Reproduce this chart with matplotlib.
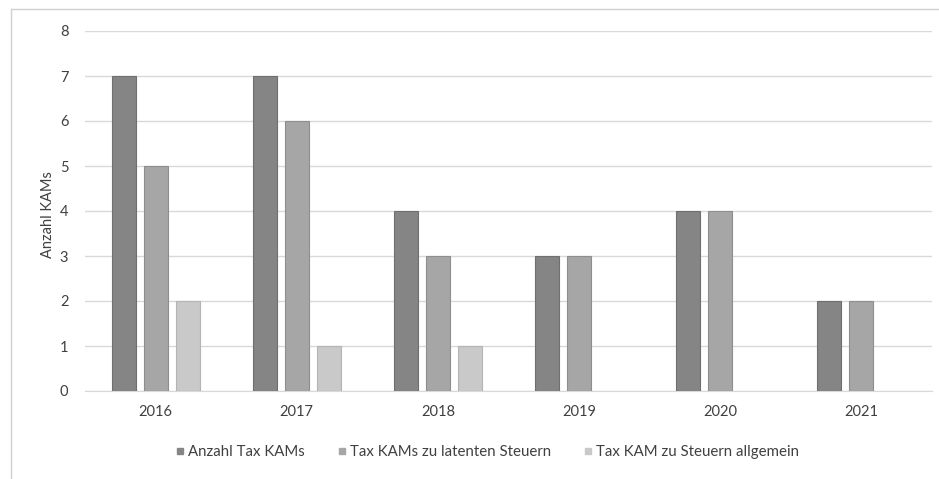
import matplotlib.pyplot as plt
import numpy as np
from matplotlib.lines import Line2D

plt.rcParams["font.family"] = ["Lato", "DejaVu Sans"]

years = ["2016", "2017", "2018", "2019", "2020", "2021"]
series_names = ["Anzahl Tax KAMs", "Tax KAMs zu latenten Steuern", "Tax KAM zu Steuern allgemein"]
anzahl = [7, 7, 4, 3, 4, 2]
latent = [5, 6, 3, 3, 4, 2]
allgemein = [2, 1, 1, 0, 0, 0]
colors = ["#858585", "#a6a6a6", "#c9c9c9"]
edges = ["#6f6f6f", "#8e8e8e", "#b4b4b4"]

W, H = 939, 479
fig = plt.figure(figsize=(W / 100, H / 100), dpi=100)
ax = fig.add_axes([85 / W, 1 - 391 / H, (932 - 85) / W, (391 - 31) / H])

x = np.arange(len(years))
width = 0.17
step = 0.227
for i, vals in enumerate([anzahl, latent, allgemein]):
    vals = np.array(vals, dtype=float)
    mask = vals > 0
    ax.bar(x[mask] + (i - 1) * step, vals[mask], width=width, color=colors[i],
           edgecolor=edges[i], linewidth=0.8, zorder=3)

ax.set_xlim(-0.5, len(years) - 0.5)
ax.set_ylim(0, 8)
ax.set_yticks(range(0, 9))
ax.set_xticks(x)
ax.set_xticklabels(years)
ax.grid(axis="y", color="#d9d9d9", linewidth=1, zorder=0)
for s in ["top", "right", "left"]:
    ax.spines[s].set_visible(False)
ax.spines["bottom"].set_color("#d9d9d9")
ax.tick_params(axis="both", length=0, labelsize=10.5, colors="#404040")
ax.tick_params(axis="y", pad=12)
ax.tick_params(axis="x", pad=10)
ax.set_ylabel("Anzahl KAMs", fontsize=10.5, color="#404040")
ax.yaxis.set_label_coords(-30 / (932 - 85), 0.49)

handles = [Line2D([], [], marker="s", linestyle="none", markersize=4.5,
                  markerfacecolor=c, markeredgecolor=c) for c in colors]
fig.legend(handles, series_names, loc="center", bbox_to_anchor=(486 / W, 1 - 452 / H),
           ncol=3, frameon=False, fontsize=10.8, handletextpad=0.1, columnspacing=2.0,
           handlelength=0.9, labelcolor="#404040")

# outer chart frame (left and top edges only visible)
fig.add_artist(Line2D([11 / W, 11 / W], [0, 1 - 9 / H], color="#d0d0d0", linewidth=1,
                      transform=fig.transFigure))
fig.add_artist(Line2D([11 / W, 1], [1 - 9 / H, 1 - 9 / H], color="#d0d0d0", linewidth=1,
                      transform=fig.transFigure))

fig.savefig("out.png", dpi=100)
